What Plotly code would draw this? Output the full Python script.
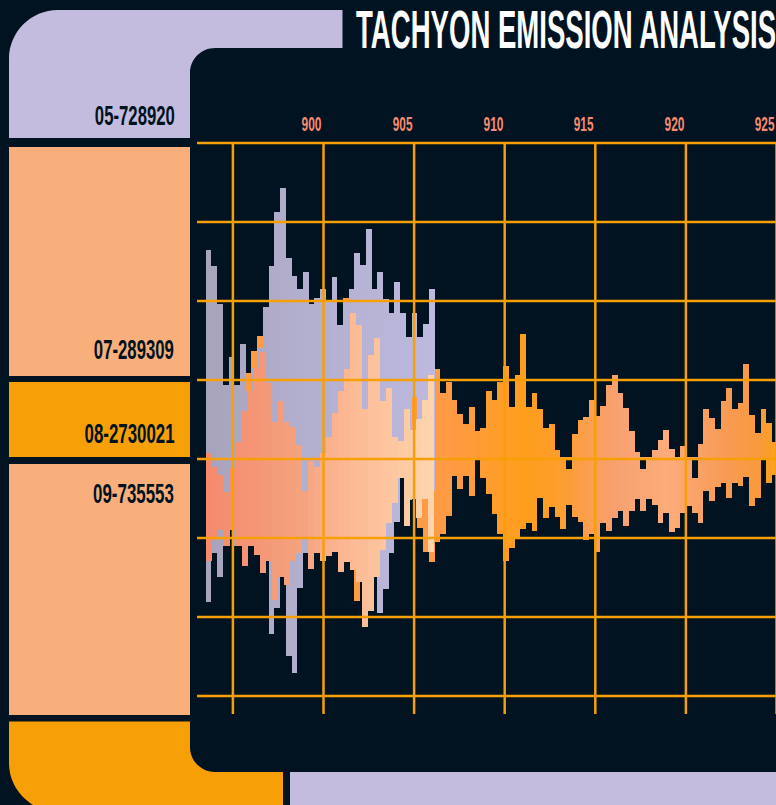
import json
import numpy as np
import plotly.graph_objects as go

TITLE = "TACHYON EMISSION ANALYSIS"
PANEL_LABELS = ["05-728920", "07-289309", "08-2730021", "09-735553"]
X_TICKS = [895, 900, 905, 910, 915, 920, 925]
X_TICK_LABELS = ["", "900", "905", "910", "915", "920", "925"]
Y_TICKS = [316, 237, 158, 79, 0, -79, -158, -237]

BIN_START = 893.657
BIN_STEP = 0.31567
PEACH_START = 893.68
PEACH_STEP = 0.33113

orange_up = [59,56,62,74,70,74,60,86,108,123,100,110,115,120,115,110,100,105,100,105,
             100,105,110,130,161,115,110,120,125,120,110,105,100,110,105,95,62,39,58,79,
             90,66,77,59,45,35,52,28,31,68,59,77,93,52,84,125,52,66,50,31,
             35,9,2,2,25,39,42,59,43,53,74,84,66,51,28,7,2,2,9,19,
             29,10,2,13,2,2,15,50,41,30,58,71,50,56,95,44,26,50,36,17]
orange_down = [61,60,62,64,60,64,66,64,66,68,70,72,68,70,68,66,64,66,68,70,
               68,66,70,68,70,72,142,116,141,111,86,61,41,16,16,40,40,69,93,103,
               83,75,57,17,30,17,37,1,19,35,55,75,102,89,79,70,64,72,39,59,
               48,58,70,46,58,63,81,75,93,64,72,59,52,67,52,40,52,40,46,64,
               54,73,69,54,47,54,64,32,42,28,24,39,24,27,18,47,39,1,24,16]
orange_gap = [0]*63 + [10] + [0]*12 + [10] + [0]*8 + [19] + [0]*14

lav_up = [209,193,155,74,102,74,115,68,91,111,152,193,247,271,201,183,170,187,155,161,
          170,158,182,134,159,170,206,194,230,170,187,160,146,177,146,122,146,122,135,170]
lav_down = [143,94,118,87,71,87,81,81,81,91,96,175,149,118,197,214,129,94,91,94,
            86,86,86,86,86,86,86,86,86,86,154,130,94,63,19,41,31,36,31,31]
lav_gap = [0]*36 + [62] + [0]*3

peach_high = [6,-8,-16,-33,-9,17,48,68,91,107,76,37,58,37,32,14,-32,-2,-8,6,
              22,46,68,90,146,134,50,104,121,58,71,22,18,50,29,40,59,84]
peach_low = [102,81,71,87,71,87,107,87,96,114,102,141,118,126,102,94,80,110,94,102,
             97,93,113,103,111,123,168,152,118,91,64,44,19,67,40,59,40,93]

BG = "#011320"
LAV = "#C4BCDF"
PEACH = "#F8AF7B"
ORANGE = "#F69F07"
TICK_COLOR = "#F58B70"
FONT = "Liberation Sans"


def ramp(xs, stops):
    pos = [s[0] for s in stops]
    rgb = np.array([[int(s[1][i:i+2], 16) for i in (1, 3, 5)] for s in stops], float)
    out = np.stack([np.interp(xs, pos, rgb[:, c]) for c in range(3)], axis=1)
    return ["rgb(%d,%d,%d)" % tuple(c) for c in out]


x_all = BIN_START + BIN_STEP*np.arange(len(orange_up))
x_lav = x_all[:len(lav_up)]
x_peach = PEACH_START + PEACH_STEP*np.arange(len(peach_high))

orange_col = ramp(x_all, [(893.5, "#FF9A45"), (907, "#FF9A45"), (911, "#FF9F1C"), (913, "#FE9E2C"),
                          (916, "#F8A070"), (919, "#FDAC7A"), (922, "#F89C58"), (924, "#FA9A3C"), (925, "#FFA01C")])
lav_col = ramp(x_lav, [(893.5, "#A8A4BC"), (899, "#B3AFCF"), (906.5, "#BEBAE0")])
peach_col = ramp(x_peach, [(893.5, "#F58A6F"), (899, "#F6A480"), (900, "#FBB08C"), (906.5, "#FFD8B0")])

fig = go.Figure()


def add(x, hi, lo, width, col):
    hi, lo = np.array(hi, float), np.array(lo, float)
    fig.add_bar(x=x, y=hi-lo, base=lo, width=width, marker=dict(color=col, line=dict(width=0)),
                hoverinfo="skip", showlegend=False)


ou, od, og = map(np.array, (orange_up, orange_down, orange_gap))
lu, ld, lg = map(np.array, (lav_up, lav_down, lav_gap))
add(x_all, ou, np.zeros_like(ou), BIN_STEP, orange_col)
add(x_all, -og, -od, BIN_STEP, orange_col)
add(x_lav, lu, lg, BIN_STEP, lav_col)
add(x_lav, 0*ld, -ld, BIN_STEP, lav_col)
add(x_peach, peach_high, -np.array(peach_low), PEACH_STEP, peach_col)

W, H = 776, 805
PX_PER_X = 18.12
X_AT_0 = 900 - 323.5/PX_PER_X
Y_ZERO_PX = 459


def px(x):
    return x/W


def py(y):
    return 1 - y/H


def path(cmds):
    out = []
    for c in cmds:
        if len(c) == 1:
            out.append(c[0])
        else:
            vals = []
            for i in range(1, len(c), 2):
                vals.append("%.5f,%.5f" % (px(c[i]), py(c[i+1])))
            out.append(c[0] + " ".join(vals))
    return " ".join(out)


def xval(p):
    return X_AT_0 + p/PX_PER_X


shapes = []


def panel(cmds, color):
    shapes.append(dict(type="path", xref="paper", yref="paper", path=path(cmds),
                       fillcolor=color, line=dict(width=0), layer="below"))


K = 0.5523
R, r = 49, 25
panel([("M", 9, 138), ("L", 9, 10+R), ("C", 9, 10+R-K*R, 9+R-K*R, 10, 9+R, 10), ("L", 342.5, 10), ("L", 342.5, 48),
       ("L", 190+r, 48), ("C", 190+r-K*r, 48, 190, 48+r-K*r, 190, 48+r), ("L", 190, 138), ("Z",)], LAV)
panel([("M", 9, 147), ("L", 190, 147), ("L", 190, 376), ("L", 9, 376), ("Z",)], PEACH)
panel([("M", 9, 382), ("L", 190, 382), ("L", 190, 457), ("L", 9, 457), ("Z",)], ORANGE)
panel([("M", 9, 464), ("L", 190, 464), ("L", 190, 715), ("L", 9, 715), ("Z",)], PEACH)
panel([("M", 9, 721.5), ("L", 190, 721.5), ("L", 190, 747), ("C", 190, 747+K*r, 215-K*r, 772, 215, 772), ("L", 283, 772),
       ("L", 283, 805), ("L", 33, 805), ("C", 19, 796, 9, 781, 9, 763), ("Z",)], ORANGE)
panel([("M", 290, 772), ("L", 776, 772), ("L", 776, 805), ("L", 290, 805), ("Z",)], LAV)

for v in Y_TICKS:
    shapes.append(dict(type="line", xref="x", yref="y", x0=xval(197), x1=xval(W), y0=v, y1=v,
                       line=dict(color=ORANGE, width=2.5), layer="above"))
for v in X_TICKS:
    shapes.append(dict(type="line", xref="x", yref="y", x0=v, x1=v, y0=Y_TICKS[0], y1=-255,
                       line=dict(color=ORANGE, width=2.5), layer="above"))

ann = []
fit = {}


def label(text, x, y, size, color, anchor, width):
    ann.append(dict(text="<b>%s</b>" % text, xref="paper", yref="paper", x=px(x), y=py(y), xanchor=anchor, yanchor="middle",
                    showarrow=False, borderpad=0, font=dict(family=FONT, size=size, color=color)))
    fit[text] = [width, anchor]


label(TITLE, 354.5, 29.5, 54, "#FFFFFF", "left", 420)
label(PANEL_LABELS[0], 176, 116, 28, BG, "right", 80)
label(PANEL_LABELS[1], 175, 349, 28, BG, "right", 80)
label(PANEL_LABELS[2], 175, 433, 28, BG, "right", 90)
label(PANEL_LABELS[3], 175, 493, 28, BG, "right", 81)
for v, t in zip(X_TICKS, X_TICK_LABELS):
    if t:
        tick_px = (v-X_AT_0)*PX_PER_X
        label(t, tick_px-11.5, 124, 21, TICK_COLOR, "center", 20)

fig.update_layout(
    width=W, height=H, margin=dict(l=0, r=0, t=0, b=0, pad=0),
    paper_bgcolor=BG, plot_bgcolor=BG, barmode="overlay", bargap=0,
    xaxis=dict(range=[X_AT_0, xval(W)], visible=False, fixedrange=True),
    yaxis=dict(range=[Y_ZERO_PX-H, Y_ZERO_PX], visible=False, fixedrange=True),
    shapes=shapes, annotations=ann, showlegend=False,
)

script = """
document.body.style.margin='0';
document.body.style.background='%s';
var FIT=%s;
function fitText(){
  document.querySelectorAll('.annotation-text').forEach(function(t){
    var f=FIT[t.textContent]; if(!f) return;
    var b=t.getBBox(); if(!b.width) return;
    var s=f[0]/b.width;
    var a=f[1]==='left'?b.x:(f[1]==='right'?b.x+b.width:b.x+b.width/2);
    t.setAttribute('transform','translate('+(a*(1-s))+',0) scale('+s+',1)');
  });
}
fitText(); setTimeout(fitText,50); setTimeout(fitText,300);
""" % (BG, json.dumps(fit))

fig.write_html("out.html", config=dict(displayModeBar=False, staticPlot=True), post_script=script)
